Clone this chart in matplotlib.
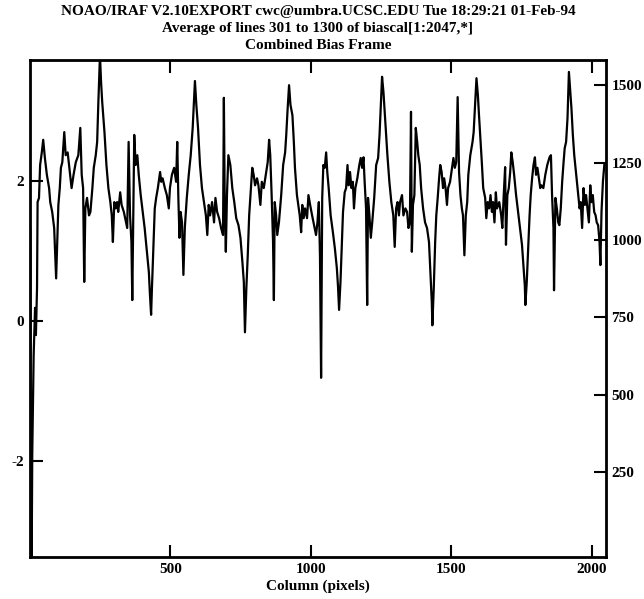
import matplotlib
matplotlib.use("Agg")
import matplotlib.pyplot as plt

# column (pixels) and mean bias level
columns = [1, 2, 6, 8, 13, 18, 21, 25, 27, 32, 36, 42, 47, 53, 60, 68, 72, 79, 86, 93,
           97, 101, 106, 110, 115, 122, 127, 134, 140, 148, 155, 163, 172, 179, 184, 189,
           193, 197, 203, 210, 215, 222, 227, 234, 239, 243, 249, 253, 257, 265, 272, 279,
           286, 291, 295, 300, 305, 310, 314, 321, 326, 334,
           342, 346, 351, 356, 361, 364, 368, 371, 376, 382, 387, 394, 401, 408, 415, 423,
           427, 431, 434, 439, 444, 449, 455, 463, 467, 472, 480, 487, 494, 498, 505, 513,
           520, 524, 528, 532, 536, 541, 546, 551, 558, 565, 572, 579, 584, 587, 592, 598,
           605, 612, 619, 626, 631, 636, 641, 648, 655, 660,
           666, 673, 680, 687, 690, 693, 697, 701, 706, 713, 720, 727, 734, 742, 749, 756,
           761, 765, 770, 775, 780, 784, 791, 796, 801, 808, 813, 820, 825, 832, 839, 846,
           851, 855, 860, 865, 868, 871, 876, 880, 886, 894, 901, 908, 912, 917, 922, 927,
           934, 939, 943, 950, 955, 960, 965, 969, 974, 979, 986, 991,
           997, 1004, 1011, 1018, 1023, 1028, 1032, 1036, 1040, 1044, 1049, 1054, 1058, 1063,
           1070, 1078, 1085, 1092, 1096, 1100, 1105, 1110, 1114, 1120, 1125, 1130, 1134, 1139,
           1144, 1149, 1153, 1158, 1165, 1172, 1177, 1182, 1187, 1191, 1196, 1200, 1203, 1208,
           1213, 1218, 1225, 1232, 1239, 1244, 1248, 1253, 1258, 1263, 1267, 1272, 1279, 1286,
           1293, 1298, 1303, 1308, 1313, 1317, 1324, 1329,
           1336, 1342, 1347, 1352, 1356, 1359, 1363, 1368, 1373, 1378, 1382, 1387, 1392, 1399,
           1406, 1413, 1420, 1425, 1430, 1432, 1437, 1442, 1446, 1451, 1456, 1460, 1465, 1470,
           1474, 1479, 1484, 1488, 1495, 1500, 1507, 1512, 1517, 1522, 1527, 1532, 1537, 1541,
           1546, 1551, 1556, 1560, 1567, 1575, 1579, 1584, 1589, 1594, 1598, 1603, 1608, 1613,
           1620, 1624, 1629, 1634, 1639, 1644, 1648, 1653, 1658, 1662, 1670,
           1677, 1681, 1686, 1691, 1694, 1699, 1704, 1709, 1713, 1718, 1723, 1730, 1737, 1744,
           1751, 1756, 1761, 1763, 1768, 1773, 1778, 1782, 1787, 1792, 1797, 1801, 1806, 1811,
           1816, 1820, 1827, 1834, 1841, 1849, 1854, 1858, 1863, 1865, 1870, 1875, 1880, 1884,
           1889, 1894, 1899, 1903, 1908, 1913, 1918, 1922, 1927, 1932, 1937, 1944, 1951, 1956,
           1960, 1965, 1970, 1975, 1979, 1984, 1989, 1994, 1998, 2003, 2008, 2013, 2017, 2022,
           2027, 2030, 2034, 2039, 2044]
level = [1.33, -0.96, -3.40, -1.91, -0.49, 0.19, -0.20, 0.47, 1.70, 1.76, 2.23, 2.41, 2.59, 2.33, 2.09, 1.90, 1.70, 1.56, 1.33, 0.61,
         1.13, 1.66, 1.90, 2.19, 2.27, 2.70, 2.37, 2.41, 2.19, 1.90, 2.09, 2.27, 2.37, 2.76, 2.09, 1.90,
         0.56, 1.61, 1.76, 1.51, 1.56, 1.90, 2.19, 2.37, 2.56, 3.09, 3.80, 3.41, 3.13, 2.70, 2.23, 1.90,
         1.70, 1.51, 1.13, 1.70, 1.61, 1.70, 1.56, 1.84, 1.66, 1.56,
         1.41, 1.33, 2.56, 1.51, 1.13, 0.30, 1.70, 2.66, 2.23, 2.37, 2.09, 1.80, 1.56, 1.33, 1.04, 0.70,
         0.37, 0.09, 0.47, 1.04, 1.61, 1.76, 1.90, 2.13, 1.99, 2.04, 1.90, 1.80, 1.61, 1.90, 2.09, 2.19,
         1.99, 2.56, 1.76, 1.19, 1.56, 1.41, 0.66, 1.33, 1.76, 2.09, 2.37, 2.76, 3.19, 3.43, 3.09, 2.76,
         2.23, 1.90, 1.70, 1.51, 1.23, 1.66, 1.51, 1.70, 1.41, 1.76,
         1.56, 1.47, 1.33, 1.23, 3.19, 1.70, 0.99, 1.80, 2.37, 2.23, 1.90, 1.70, 1.47, 1.37, 1.19, 0.84,
         0.56, -0.16, 0.47, 0.94, 1.51, 1.76, 2.19, 2.09, 1.94, 2.04, 1.94, 1.66, 1.99, 1.90, 2.09, 2.27,
         2.59, 2.37, 1.80, 1.13, 0.30, 1.70, 1.51, 1.23, 1.41, 1.80, 2.23, 2.41, 2.66, 3.04, 3.37, 3.09,
         2.94, 2.56, 2.19, 1.80, 1.66, 1.51, 1.27, 1.66, 1.47, 1.61, 1.47, 1.80,
         1.66, 1.51, 1.37, 1.23, 1.41, 1.70, 0.94, -0.81, 1.76, 2.23, 2.19, 2.41, 2.13, 1.90,
         1.51, 1.27, 1.04, 0.76, 0.51, 0.16, 0.56, 1.13, 1.56, 1.84, 1.90, 2.23, 1.94, 2.13,
         1.90, 1.99, 1.61, 1.90, 2.04, 2.23, 2.33, 2.19, 2.34, 1.99, 1.61, 0.23, 1.76, 1.51,
         1.19, 1.41, 1.76, 2.23, 2.33, 2.66, 3.04, 3.49, 3.27, 2.94, 2.70, 2.37, 1.99, 1.70,
         1.51, 1.06, 1.61, 1.70, 1.51, 1.70, 1.80, 1.51,
         1.61, 1.56, 1.33, 1.41, 2.99, 0.99, 1.66, 1.80, 2.76, 2.56, 2.37, 2.23, 1.90, 1.61,
         1.41, 1.33, 1.13, 0.70, 0.27, -0.06, 0.47, 1.13, 1.51, 1.76, 2.04, 2.23, 2.13, 1.90,
         2.04, 1.90, 1.66, 1.90, 1.99, 2.13, 2.33, 2.19, 2.27, 3.20, 2.13, 1.80, 1.61, 1.51,
         0.94, 1.51, 1.70, 2.09, 2.37, 2.56, 2.70, 3.09, 3.47, 3.23, 2.94, 2.61, 2.27, 1.90,
         1.76, 1.47, 1.70, 1.61, 1.80, 1.56, 1.70, 1.41, 1.84, 1.61, 1.70,
         1.51, 1.33, 1.80, 2.20, 1.09, 1.80, 1.90, 2.13, 2.41, 2.27, 2.09, 1.80, 1.56, 1.33,
         1.09, 0.80, 0.51, 0.23, 0.56, 1.04, 1.51, 1.80, 2.04, 2.23, 2.34, 2.09, 2.19, 2.04,
         1.90, 1.94, 1.90, 2.09, 2.23, 2.34, 2.37, 1.80, 1.33, 0.44, 1.76, 1.61, 1.41, 1.37,
         1.61, 1.99, 2.27, 2.47, 2.56, 2.90, 3.56, 3.33, 3.04, 2.66, 2.37, 2.09, 1.80, 1.61,
         1.70, 1.33, 1.90, 1.66, 1.80, 1.61, 1.41, 1.94, 1.70, 1.80, 1.56, 1.51, 1.41, 1.37,
         1.13, 0.80, 1.56, 1.99, 2.23]

x_ticks = [500, 1000, 1500, 2000]
left_ticks = [-2, 0, 2]
right_ticks = [250, 500, 750, 1000, 1250, 1500]

title_lines = ["NOAO/IRAF V2.10EXPORT cwc@umbra.UCSC.EDU Tue 18:29:21 01-Feb-94",
               "Average of lines 301 to 1300 of biascal[1:2047,*]",
               "Combined Bias Frame"]

plt.rcParams['font.family'] = ['Liberation Serif', 'DejaVu Serif']
plt.rcParams['font.weight'] = 'bold'

fig = plt.figure(figsize=(6.44, 5.99), dpi=100)
ax = fig.add_axes([30/644, 1 - 557/599, 576/644, 497/599])

ax.plot(columns, level, color='black', lw=1.6)
ax.set_xlim(0, 2050)
ax.set_ylim(-3.37, 3.73)
ax.set_xticks(x_ticks)
ax.set_yticks(left_ticks)
ax.set_yticklabels([str(v) for v in left_ticks])
ax.tick_params(direction='in', length=9, width=1.5, top=True, labelsize=11, pad=4)
for s in ax.spines.values():
    s.set_linewidth(2)

ax2 = ax.twinx()
ax2.set_ylim(-25, 1582)
ax2.set_yticks(right_ticks)
ax2.tick_params(direction='in', length=9, width=1.5, labelsize=11, pad=4)

ax.set_xlabel('Column (pixels)', fontsize=11, fontweight='bold', labelpad=3)

# three stacked title lines, tight like the IRAF header
for line, yb in zip(title_lines, [15, 32, 49]):
    fig.text(318/644, 1 - yb/599, line, ha='center', va='baseline',
             fontsize=11, fontweight='bold')

fig.savefig('out.png', dpi=100)
